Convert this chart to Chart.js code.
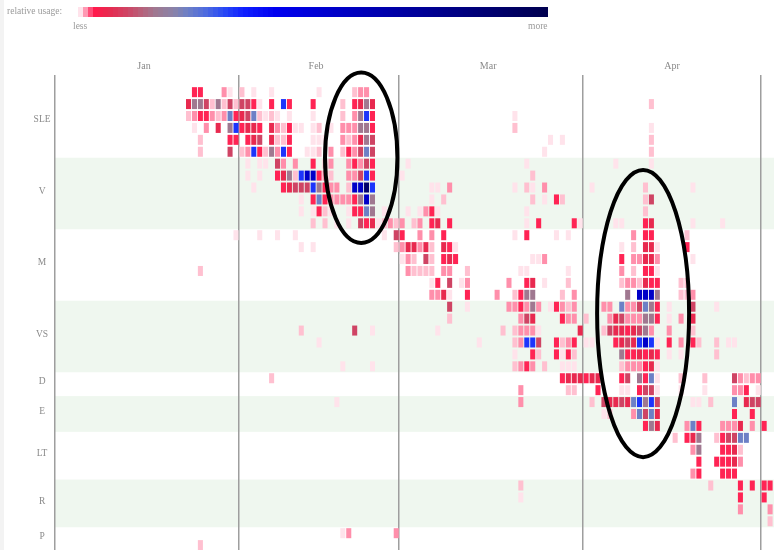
<!DOCTYPE html>
<html><head><meta charset="utf-8">
<script src="https://cdn.jsdelivr.net/npm/chart.js@4/dist/chart.umd.min.js"></script>
<style>
html,body{margin:0;padding:0;background:#fff;overflow:hidden;width:774px;height:550px;}
#wrap{position:absolute;left:0;top:0;width:779px;height:550px;}
#strip{position:absolute;left:0;top:0;width:4px;height:550px;background:#f3f3f3;}
.lg{position:absolute;font-family:'Liberation Serif',serif;font-size:9.5px;color:#9a9a9a;white-space:nowrap;}
#lgBar{position:absolute;left:78px;top:7px;height:10px;display:flex;}
#lgBar div{width:5px;height:10px;}
</style></head>
<body>
<div id="wrap"><canvas id="c"></canvas></div>
<div id="strip"></div>
<div class="lg" style="left:7px;top:6px;">relative usage:</div>
<div id="lgBar"></div>
<div class="lg" style="left:73px;top:21px;">less</div>
<div class="lg" style="left:528px;top:21px;">more</div>
<script>
// ---- axes / categories ----
const MONTHS = ['Jan','Feb','Mar','Apr'];
const MONTH_START = [0,31,58,89,119];      // column index where each month line is drawn
const MONTH_LABEL_AT = [15,44,73,104];     // column where month name sits
const N_COLS = 122;
const GROUPS = ['SLE','V','M','VS','D','E','LT','R','P'];
const GROUP_ROWS = [6,6,6,6,2,3,4,4,2];

// ---- cell levels: "startCol:levels" segments, '.' = no usage ----
const LEVELS = '123456789AB';
const LEVEL_VALUES = [0, 0.006, 0.012, 0.03, 0.06, 0.10, 0.16, 0.23, 0.33, 0.55, 0.9];

const SLE = [
 "23:44 28:31.2 33:1 36:1 44:1 50:233",
 "22:5776272626641 36:4.94 43:4 48:2.4575 100:2",
 "22:2344323845682121 39:1 43:1 48:2.3794 77:1",
 "23:1.3.5.794554.532411 43:12.1.333774 77:2 100:1",
 "24:2 29:44.456.5224 43:111..323576 83:1.1 100:2",
 "24:2 29:6.239427394 42:112.3.243686 82:1 100:2"
];
const V = [
 "32:1.11.63.3..4.23..34364 59:1 79:1 94:1 100:1",
 "32:1.1..45729AA432..33694 58:1 80:2",
 "33:1 38:4566697433.2AAB9 63:11.3 77:1.21.3 90:1 99:2 107:1",
 "41:1.484333347A7 63:1.2 80:2.1.42 99:26",
 "41:1.1421..14487.1 59:1.1341 79:1 99:2",
 "43:2.2.1.1.64512323.23.45.4 79:1.4 87:41 94:11 99:45 107:1 112:1"
];
const M = [
 "30:1 34:1 37:1 40:1 55:1.64..3.3.4 77:1.4 84:1.1 97:3.44 106:2",
 "41:1.1 57:2355352.541 95:1.2.551 106:4",
 "58:132.62.454 80:113 95:4.33553 107:1",
 "24:2 59:32222.33..2 78:11 86:1 95:3.2.441",
 "63:14.6.13 76:3..45.1 86:2 95:2332544 105:22",
 "63:3351..4 74:3..2477 85:2.3 96:7.AAA7 105:223"
];
const VS = [
 "66:6..1 76:334373.14323 92:33.8336874.1 107:6 111:1",
 "66:2 78:365 85:433.2 93:356333774 103:1.3.5",
 "41:2 50:6..1 64:1 75:2.23331 88:5 92:265545673 103:3 107:2",
 "44:1 71:1 77:23996..4234.11 94:45659A91.4.3.42 111:2.11",
 "77:1..42..4142 95:7445454.1.1 111:2",
 "48:1 53:1 77:2343.2..111 95:2333451"
];
const D = [
 "36:2 85:4555455 95:46.7481 105:2 109:2 114:63233",
 "78:3 86:22 91:4 95:11.4661 105:1 109:1 114:334.1"
];
const E = [
 "47:1 78:3 90:2.6556589796 107:11.2 114:8.566",
 "92:12...38685 114:4..4",
 "99:475 106:384...3335.3.4"
];
const LT = [
 "104:2.457..246688",
 "107:37...4452",
 "108:4..44453",
 "107:34...444"
];
const R = [
 "78:2 110:2....4.4.44",
 "78:1 115:4...4",
 "115:3....3",
 "120:2"
];
const P = [
 "48:13 57:3",
 "24:2"
];

// annotation ellipses (in column / row units)
const ELLIPSES = [
 {col:51.1, row:6.0, rCol:6.1, rRow:7.15},
 {col:98.6, row:19.07, rCol:7.75, rRow:12.05}
];

// ---- colour scale ----
const STOPS = [
 [0.000,'#ffe3eb'],[0.006,'#ffc0d0'],[0.012,'#ff8fab'],[0.022,'#ff4a75'],[0.032,'#ff1a4c'],
 [0.06,'#e8294f'],[0.10,'#cf4464'],[0.13,'#b8607a'],[0.16,'#a07890'],[0.20,'#8a82a8'],
 [0.23,'#6d80c6'],[0.27,'#4d6ae0'],[0.31,'#2848f6'],[0.35,'#1020ff'],[0.42,'#0000f0'],
 [0.55,'#0000c8'],[0.70,'#0000a0'],[0.85,'#000078'],[1.00,'#000050']
];
function hex(h){return [parseInt(h.slice(1,3),16),parseInt(h.slice(3,5),16),parseInt(h.slice(5,7),16)];}
function colorOf(t){
  if(t<=STOPS[0][0]) return STOPS[0][1];
  for(let i=1;i<STOPS.length;i++){
    if(t<=STOPS[i][0]){
      const [t0,c0]=STOPS[i-1],[t1,c1]=STOPS[i];
      const f=(t-t0)/(t1-t0), a=hex(c0), b=hex(c1);
      return 'rgb('+a.map((v,k)=>Math.round(v+(b[k]-v)*f)).join(',')+')';
    }
  }
  return STOPS[STOPS.length-1][1];
}

// legend bar
(function(){
  const bar=document.getElementById('lgBar'); const n=94;
  for(let i=0;i<n;i++){const d=document.createElement('div'); d.style.background=colorOf(i/(n-1)); bar.appendChild(d);}
})();

function parseRow(str){
  const cells=[]; if(!str) return cells;
  str.trim().split(/\s+/).forEach(seg=>{
    const p=seg.split(':'); let c=+p[0];
    for(const ch of p[1]){ if(ch!=='.') cells.push([c, LEVEL_VALUES[LEVELS.indexOf(ch)]]); c++; }
  });
  return cells;
}

const ROWS = [].concat(SLE,V,M,VS,D,E,LT,R,P);
const labels = Array.from({length:N_COLS},(_,i)=>String(i));
const datasets = ROWS.map((str,r)=>{
  const data = new Array(N_COLS).fill(null);
  const colors = new Array(N_COLS).fill('rgba(0,0,0,0)');
  parseRow(str).forEach(([c,v])=>{ if(c<N_COLS){ data[c]=[r+0.08, r+0.92]; colors[c]=colorOf(v);} });
  return {data, backgroundColor:colors, borderWidth:0, grouped:false, barPercentage:0.85, categoryPercentage:1};
});

// group centres for y labels
const groupStart=[]; let acc=0; GROUP_ROWS.forEach(n=>{groupStart.push(acc); acc+=n;});
const TOTAL_ROWS = acc;
const tickVals = GROUP_ROWS.map((n,i)=>groupStart[i]+n/2-0.2);

const bandPlugin = {
  id:'bands',
  beforeDraw(chart){
    const {ctx, chartArea:a, scales:{y}} = chart;
    ctx.save();
    GROUP_ROWS.forEach((n,i)=>{
      if(i%2===1){
        const y0=y.getPixelForValue(groupStart[i]), y1=y.getPixelForValue(groupStart[i]+n);
        ctx.fillStyle='#eff7ef';
        ctx.fillRect(a.left, y0, a.right-a.left, y1-y0);
      }
    });
    ctx.restore();
  }
};
const ellipsePlugin = {
  id:'ellipses',
  afterDatasetsDraw(chart){
    const {ctx, scales:{x,y}} = chart;
    ctx.save();
    ctx.strokeStyle='#000'; ctx.lineWidth=4;
    ELLIPSES.forEach(e=>{
      const cx=x.getPixelForValue(e.col), cy=y.getPixelForValue(e.row);
      const rx=Math.abs(x.getPixelForValue(e.col+e.rCol)-cx), ry=Math.abs(y.getPixelForValue(e.row+e.rRow)-cy);
      ctx.beginPath(); ctx.ellipse(cx,cy,rx,ry,0,0,Math.PI*2); ctx.stroke();
    });
    ctx.restore();
  }
};

new Chart(document.getElementById('c'),{
  type:'bar',
  data:{labels, datasets},
  plugins:[bandPlugin, ellipsePlugin],
  options:{
    responsive:true, maintainAspectRatio:false, animation:false,
    layout:{padding:0},
    plugins:{legend:{display:false}, tooltip:{enabled:false}},
    scales:{
      x:{type:'category', position:'top', offset:true,
        grid:{offset:true, drawTicks:false, lineWidth:1.5,
          color:(ctx)=> MONTH_START.includes(ctx.index) ? '#9e9e9e' : 'rgba(0,0,0,0)'},
        border:{display:false},
        ticks:{autoSkip:false, maxRotation:0, padding:3, labelOffset:-3, color:'#8a8a8a',
          font:{family:'Liberation Serif', size:10},
          callback:(v,i)=>{const k=MONTH_LABEL_AT.indexOf(i); return k>=0?MONTHS[k]:'';}},
        afterFit:(s)=>{s.height=75; s.paddingLeft=0; s.paddingRight=0;}
      },
      y:{type:'linear', reverse:true, min:-0.94, max:TOTAL_ROWS-0.09,
        grid:{display:false, drawTicks:false}, border:{display:false},
        afterBuildTicks:(s)=>{s.ticks=tickVals.map(v=>({value:v}));},
        ticks:{autoSkip:false, padding:4.5, crossAlign:'center', color:'#8a8a8a',
          font:{family:'Liberation Serif', size:9.5},
          callback:(v,i)=>GROUPS[i]},
        afterFit:(s)=>{s.width=55; s.paddingTop=0; s.paddingBottom=0;}
      }
    }
  }
});
</script>
</body></html>
